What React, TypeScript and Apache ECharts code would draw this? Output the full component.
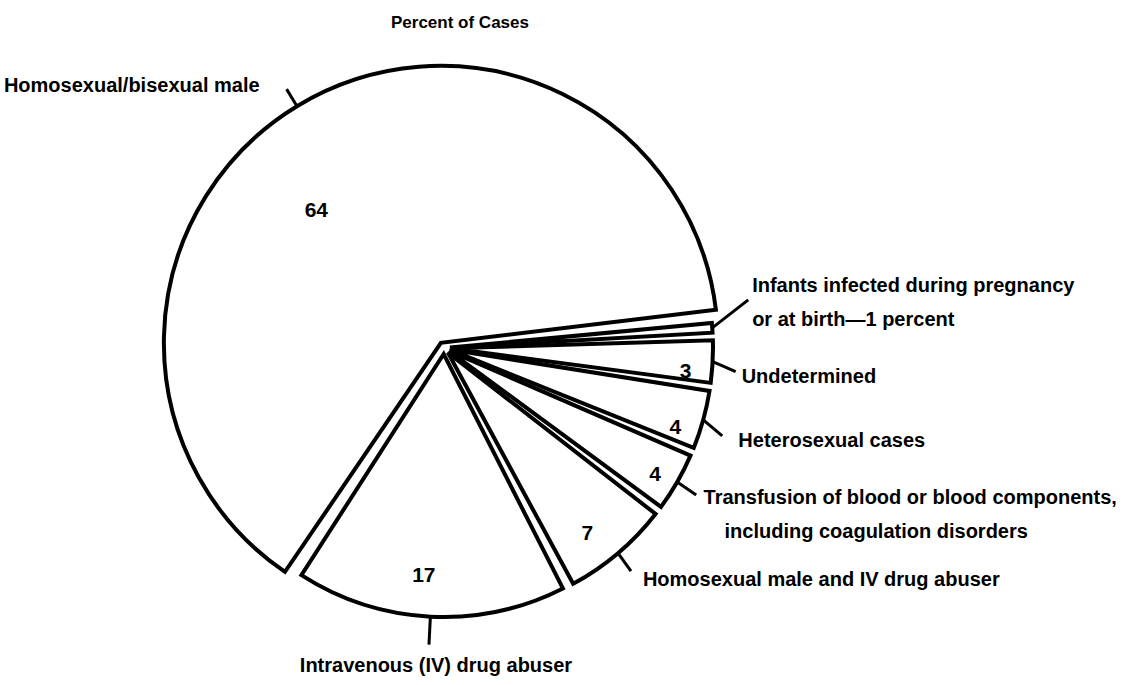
import React, { useEffect, useRef } from "react";
import * as echarts from "echarts";

// ---- data ----
const categories = [
  "Homosexual/bisexual male",
  "Infants infected during pregnancy or at birth",
  "Undetermined",
  "Heterosexual cases",
  "Transfusion of blood or blood components, including coagulation disorders",
  "Homosexual male and IV drug abuser",
  "Intravenous (IV) drug abuser",
];
const percents = [64, 1, 3, 4, 4, 7, 17];
const labelTexts = [
  ["Homosexual/bisexual male"],
  ["Infants infected during pregnancy", "or at birth\u20141 percent"],
  ["Undetermined"],
  ["Heterosexual cases"],
  ["Transfusion of blood or blood components,", "including coagulation disorders"],
  ["Homosexual male and IV drug abuser"],
  ["Intravenous (IV) drug abuser"],
];
const showValue = [true, false, true, true, true, true, true];
const titleText = "Percent of Cases";

// ---- styling / layout ----
const FONT = "'Liberation Sans', Arial, sans-serif";
const CENTER = [444, 348];
const START = 236.5;
const OFFSET = 6;
const PAD = 1.5;
const R_MAJOR = 277;
const R_MINOR = 263;
const lineLen = [20, 38, 20, 24, 20, 20, 28];
// leader vectors from the slice edge (null = default radial line)
const leaderVec: (number[] | null)[] = [null, [36, -28], [23, 10], [19, 16], [19, 13], [13, 18], null];
const catShift = [
  [-22, -4],
  [-3, -23],
  [4, 13],
  [7, 14],
  [4, 22],
  [7, 11],
  [12, 3],
];
const valShift = [
  [-3, 67],
  [0, 0],
  [2, 10],
  [0, 14],
  [3, 6],
  [-12, 1],
  [-8, -13],
];

const hiddenItem = { color: "rgba(0,0,0,0)", borderWidth: 0 };
const shownItem = { color: "#ffffff", borderColor: "#000000", borderWidth: 4, borderJoin: "miter" };

const textBase = {
  color: "#000",
  fontFamily: FONT,
  fontWeight: "bold",
  fontSize: 20,
  lineHeight: 34,
};

function catFormatter(p: any) {
  const i = p.dataIndex;
  const lines = labelTexts[i];
  return lines
    .map((l, k) => `{${k === 0 ? "a" : i === 4 ? "c" : "b"}|${l}}`)
    .join("\n");
}

function makeCatData(visible: (i: number) => boolean) {
  return percents.map((v, i) => ({
    name: categories[i],
    value: v,
    selected: true,
    itemStyle: visible(i) ? shownItem : hiddenItem,
    label: { show: visible(i) },
    labelLine: { show: visible(i), length: lineLen[i] },
  }));
}

function catLayout(p: any) {
  const i = p.dataIndex;
  const out: any = { dx: catShift[i][0], dy: catShift[i][1] };
  const v = leaderVec[i];
  if (v && p.labelLinePoints && p.labelLinePoints.length) {
    const p0 = p.labelLinePoints[0];
    out.labelLinePoints = [
      [p0[0], p0[1]],
      [p0[0] + v[0], p0[1] + v[1]],
    ];
  }
  if (i === 6) {
    out.align = "center";
    out.verticalAlign = "top";
  }
  return out;
}

const common = {
  type: "pie",
  center: CENTER,
  startAngle: START,
  clockwise: true,
  padAngle: PAD,
  selectedMode: "multiple",
  selectedOffset: OFFSET,
  avoidLabelOverlap: false,
  emphasis: { disabled: true },
  animation: false,
};

const richStyles = {
  a: { ...textBase },
  b: { ...textBase },
  c: { ...textBase, padding: [0, 0, 0, 21] },
};

const catLabel = {
  position: "outside",
  formatter: catFormatter,
  distanceToLabelLine: 5,
  ...textBase,
  rich: richStyles,
};

export default function App() {
  const ref = useRef<HTMLDivElement>(null);
  useEffect(() => {
    if (!ref.current) return;
    const chart = echarts.init(ref.current, undefined, { renderer: "svg" });
    chart.setOption({
      animation: false,
      backgroundColor: "#ffffff",
      title: {
        text: titleText,
        left: 386,
        top: 9,
        textStyle: { color: "#000", fontFamily: FONT, fontWeight: "bold", fontSize: 17 },
      },
      series: [
        {
          ...common,
          name: "major",
          radius: R_MAJOR,
          z: 2,
          label: catLabel,
          labelLine: { length2: 0, lineStyle: { color: "#000", width: 3 } },
          labelLayout: catLayout,
          data: makeCatData((i) => i === 0),
        },
        {
          ...common,
          name: "minor",
          radius: R_MINOR,
          z: 2,
          label: catLabel,
          labelLine: { length2: 0, lineStyle: { color: "#000", width: 3 } },
          labelLayout: catLayout,
          data: makeCatData((i) => i !== 0),
        },
        {
          ...common,
          name: "values",
          radius: [199, R_MINOR],
          z: 3,
          itemStyle: hiddenItem,
          label: {
            position: "inside",
            formatter: "{c}",
            ...textBase,
            fontSize: 21,
          },
          labelLine: { show: false },
          labelLayout: (p: any) => ({ dx: valShift[p.dataIndex][0], dy: valShift[p.dataIndex][1] }),
          data: percents.map((v, i) => ({
            name: categories[i],
            value: v,
            selected: true,
            label: { show: showValue[i] },
          })),
        },
      ],
    });
    return () => chart.dispose();
  }, []);
  return (
    <div
      ref={ref}
      style={{ position: "absolute", left: 0, top: 0, width: 1131, height: 685, background: "#fff" }}
    />
  );
}
